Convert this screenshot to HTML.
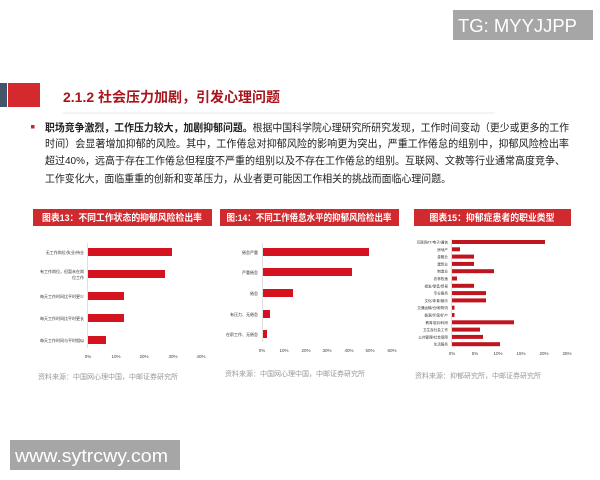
<!DOCTYPE html>
<html><head><meta charset="utf-8"><style>
html,body{margin:0;padding:0;background:#fff;}
body{width:600px;height:480px;overflow:hidden;position:relative;font-family:"Liberation Sans","Noto Sans CJK SC",sans-serif;}
svg{position:absolute;left:0;top:0;}
</style></head><body>
<svg width="600" height="480" viewBox="0 0 600 480" xmlns="http://www.w3.org/2000/svg" font-family="Liberation Sans, Noto Sans CJK SC, sans-serif">
<rect x="0" y="0" width="600" height="480" fill="#fff"/>
<rect x="453" y="10" width="140" height="30" fill="#a6a6a6"/>
<text x="458" y="32" font-size="18" fill="#fff" textLength="119" lengthAdjust="spacingAndGlyphs">TG: MYYJJPP</text>
<rect x="10" y="440" width="170" height="30" fill="#a6a6a6"/>
<text x="15" y="462" font-size="18" fill="#fff" textLength="153" lengthAdjust="spacingAndGlyphs">www.sytrcwy.com</text>
<rect x="0" y="83" width="7" height="24" fill="#44546a"/>
<rect x="8" y="83" width="32" height="24" fill="#d42a2e"/>
<text x="63" y="102" font-size="14" font-weight="bold" fill="#a8151c" textLength="217">2.1.2 社会压力加剧，引发心理问题</text>
<line x1="63" y1="113" x2="495" y2="113" stroke="#e8e8e8" stroke-width="1"/>
<rect x="31" y="125" width="3.5" height="3.5" fill="#c0282d"/>
<g font-size="10.5" fill="#222">
<text x="45" y="131" textLength="524" lengthAdjust="spacingAndGlyphs"><tspan font-weight="bold">职场竞争激烈，工作压力较大，加剧抑郁问题。</tspan>根据中国科学院心理研究所研究发现，工作时间变动（更少或更多的工作</text>
<text x="45" y="147" textLength="524" lengthAdjust="spacingAndGlyphs">时间）会显著增加抑郁的风险。其中，工作倦怠对抑郁风险的影响更为突出，严重工作倦怠的组别中，抑郁风险检出率</text>
<text x="45" y="164" textLength="520" lengthAdjust="spacingAndGlyphs">超过40%，远高于存在工作倦怠但程度不严重的组别以及不存在工作倦怠的组别。互联网、文教等行业通常高度竞争、</text>
<text x="45" y="182" textLength="406" lengthAdjust="spacingAndGlyphs">工作变化大，面临重重的创新和变革压力，从业者更可能因工作相关的挑战而面临心理问题。</text>
</g>
<rect x="33" y="209" width="179" height="17" fill="#d02a2e"/>
<text x="122" y="221" font-size="9.5" font-weight="bold" fill="#fff" text-anchor="middle" textLength="160" lengthAdjust="spacingAndGlyphs">图表13：不同工作状态的抑郁风险检出率</text>
<rect x="220" y="209" width="179" height="17" fill="#d02a2e"/>
<text x="309" y="221" font-size="9.5" font-weight="bold" fill="#fff" text-anchor="middle" textLength="165" lengthAdjust="spacingAndGlyphs">图:14：不同工作倦怠水平的抑郁风险检出率</text>
<rect x="414" y="209" width="157" height="17" fill="#d02a2e"/>
<text x="492" y="221" font-size="9.5" font-weight="bold" fill="#fff" text-anchor="middle" textLength="125" lengthAdjust="spacingAndGlyphs">图表15：抑郁症患者的职业类型</text>
<line x1="87.5" y1="243" x2="87.5" y2="348" stroke="#ccc" stroke-width="0.6"/>
<g fill="#d5121f">
<rect x="88" y="248" width="84" height="8"/>
<rect x="88" y="270" width="77" height="8"/>
<rect x="88" y="292" width="36" height="8"/>
<rect x="88" y="314" width="36" height="8"/>
<rect x="88" y="336" width="18" height="8"/>
</g>
<g font-size="4" fill="#333" text-anchor="end">
<text x="84" y="254">无工作岗位/失业/待业</text>
<text x="84" y="273">有工作岗位，但暂未在岗</text><text x="84" y="279">位工作</text>
<text x="84" y="298">每天工作时间比平时更少</text>
<text x="84" y="320">每天工作时间比平时更长</text>
<text x="84" y="342">每天工作时间与平时相似</text>
</g>
<g font-size="4.5" fill="#444" text-anchor="middle">
<text x="88" y="358">0%</text><text x="116" y="358">10%</text><text x="144" y="358">20%</text><text x="173" y="358">30%</text><text x="201" y="358">40%</text>
</g>
<text x="38" y="379" font-size="7" fill="#999">资料来源：中国网心理中国，中邮证券研究所</text>
<line x1="262.5" y1="243" x2="262.5" y2="342" stroke="#ccc" stroke-width="0.6"/>
<g fill="#d5121f">
<rect x="263" y="248" width="106" height="8"/>
<rect x="263" y="268" width="89" height="8"/>
<rect x="263" y="289" width="30" height="8"/>
<rect x="263" y="310" width="7" height="8"/>
<rect x="263" y="330" width="4" height="8"/>
</g>
<g font-size="4" fill="#333" text-anchor="end">
<text x="258" y="254">倦怠严重</text>
<text x="258" y="274">严重倦怠</text>
<text x="258" y="295">倦怠</text>
<text x="258" y="316">有压力、无倦怠</text>
<text x="258" y="336">在职工作、无倦怠</text>
</g>
<g font-size="4.5" fill="#444" text-anchor="middle">
<text x="262" y="352">0%</text><text x="284" y="352">10%</text><text x="306" y="352">20%</text><text x="327" y="352">30%</text><text x="349" y="352">40%</text><text x="370" y="352">50%</text><text x="392" y="352">60%</text>
</g>
<text x="225" y="376" font-size="7" fill="#999">资料来源：中国网心理中国，中邮证券研究所</text>
<line x1="451.5" y1="239" x2="451.5" y2="347" stroke="#ccc" stroke-width="0.6"/>
<g fill="#c0141f">
<rect x="452" y="240" width="93" height="4"/>
<rect x="452" y="247.3" width="8" height="4"/>
<rect x="452" y="254.6" width="22" height="4"/>
<rect x="452" y="261.9" width="22" height="4"/>
<rect x="452" y="269.2" width="42" height="4"/>
<rect x="452" y="276.5" width="5" height="4"/>
<rect x="452" y="283.8" width="22" height="4"/>
<rect x="452" y="291.1" width="34" height="4"/>
<rect x="452" y="298.4" width="34" height="4"/>
<rect x="452" y="305.7" width="2.5" height="4"/>
<rect x="452" y="313" width="2.5" height="4"/>
<rect x="452" y="320.3" width="62" height="4"/>
<rect x="452" y="327.6" width="28" height="4"/>
<rect x="452" y="334.9" width="31" height="4"/>
<rect x="452" y="342.2" width="48" height="4"/>
</g>
<g font-size="3.6" fill="#333" text-anchor="end">
<text x="448" y="243.5">互联网/IT/电子/通信</text>
<text x="448" y="250.8">房地产</text>
<text x="448" y="258.1">金融业</text>
<text x="448" y="265.4">建筑业</text>
<text x="448" y="272.7">制造业</text>
<text x="448" y="280">农林牧渔</text>
<text x="448" y="287.3">批发/零售/贸易</text>
<text x="448" y="294.6">专业服务</text>
<text x="448" y="301.9">文化/体育/娱乐</text>
<text x="448" y="309.2">交通运输/仓储/物流</text>
<text x="448" y="316.5">能源/环保/矿产</text>
<text x="448" y="323.8">教育培训/科研</text>
<text x="448" y="331.1">卫生及社会工作</text>
<text x="448" y="338.4">公共管理/社会保障</text>
<text x="448" y="345.7">生活服务</text>
</g>
<g font-size="4.5" fill="#444" text-anchor="middle">
<text x="452" y="355">0%</text><text x="475" y="355">5%</text><text x="498" y="355">10%</text><text x="521" y="355">15%</text><text x="544" y="355">20%</text><text x="567" y="355">25%</text>
</g>
<text x="415" y="378" font-size="7" fill="#999">资料来源：抑郁研究所，中邮证券研究所</text>
</svg>
</body></html>
